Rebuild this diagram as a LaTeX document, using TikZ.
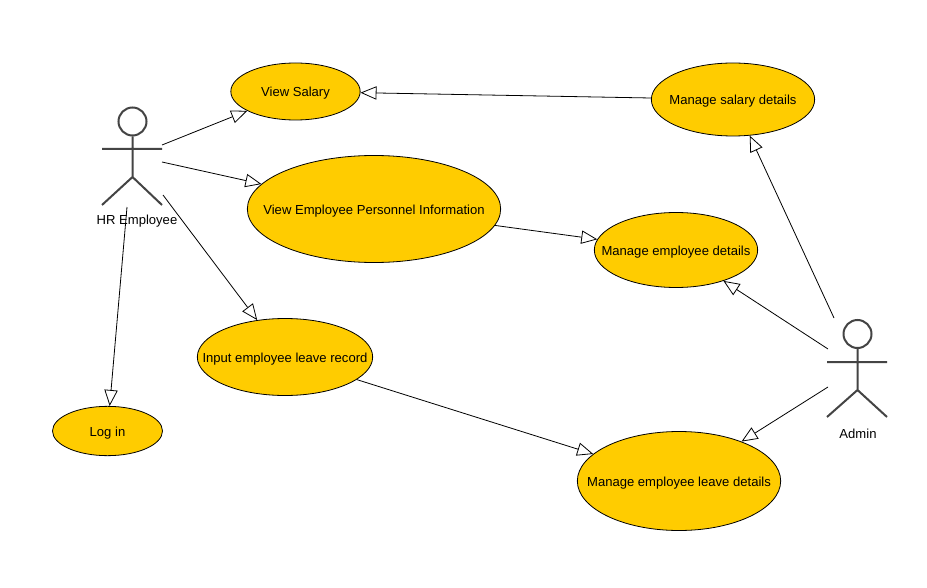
\documentclass[tikz,border=0pt]{standalone}
\usepackage{fontspec}
\setmainfont{Liberation Sans}
\usetikzlibrary{arrows.meta,shapes.geometric}
\definecolor{usecasefill}{HTML}{FFCC00}
\definecolor{actorline}{HTML}{444444}
\newcommand{\uctext}[1]{\smash{\raisebox{-3.9pt}{\makebox[0pt]{#1}}}}
\tikzset{
  usecase/.style={ellipse,draw=black,fill=usecasefill,line width=0.6pt,inner sep=0pt,font=\fontsize{9.8}{11}\selectfont},
  actorstroke/.style={draw=actorline,line width=1.5pt},
  actorname/.style={inner sep=0pt,font=\fontsize{9.8}{11}\selectfont},
  conn/.style={draw=black,line width=0.6pt,-{Triangle[open,length=12pt,width=10pt,fill=white]}}
}
\begin{document}
\begin{tikzpicture}[x=0.75pt,y=-0.75pt]
\useasboundingbox (0,0) rectangle (927,588);
\fill[white] (0,0) rectangle (927,588);
% use cases
\node[usecase,minimum width=97pt,minimum height=42.75pt] (salary) at (295.5,91.5) {\uctext{View Salary}};
\node[usecase,minimum width=122.5pt,minimum height=54.75pt] (msalary) at (733,99.5) {\uctext{Manage salary details}};
\node[usecase,minimum width=190pt,minimum height=80.25pt] (personnel) at (374,209) {\uctext{View Employee Personnel Information}};
\node[usecase,minimum width=122.5pt,minimum height=56.25pt] (mdetails) at (676,250) {\uctext{Manage employee details}};
\node[usecase,minimum width=131.5pt,minimum height=57.75pt] (input) at (285,357) {\uctext{Input employee leave record}};
\node[usecase,minimum width=82.5pt,minimum height=37pt] (login) at (107.5,431) {\uctext{Log in}};
\node[usecase,minimum width=152.5pt,minimum height=74.25pt] (mleave) at (679,481) {\uctext{Manage employee leave details}};
% HR actor
\node[circle,actorstroke,minimum size=21pt,inner sep=0pt] (hrhead) at (132.5,121.5) {};
\coordinate (hrhip) at (132.5,177);
\coordinate (hrarmL) at (102,149);
\coordinate (hrarmR) at (162,149);
\coordinate (hrfootL) at (102,205);
\coordinate (hrfootR) at (162,205);
\draw[actorstroke] (hrhead) -- (hrhip) (hrarmL) -- (hrarmR) (hrfootL) -- (hrhip) -- (hrfootR);
\node[actorname] (hrname) at (137,221) {HR Employee};
% Admin actor
\node[circle,actorstroke,minimum size=21pt,inner sep=0pt] (adhead) at (857.5,334) {};
\coordinate (adhip) at (857.5,390);
\coordinate (adarmL) at (827,362);
\coordinate (adarmR) at (887,362);
\coordinate (adfootL) at (827,417);
\coordinate (adfootR) at (887,417);
\draw[actorstroke] (adhead) -- (adhip) (adarmL) -- (adarmR) (adfootL) -- (adhip) -- (adfootR);
\node[actorname] (adname) at (858,434) {Admin};
% free ends
\coordinate (h1) at (162,145);
\coordinate (h2) at (162,162);
\coordinate (h3) at (163,195);
\coordinate (h4) at (127,207);
\coordinate (a1) at (834,318);
\coordinate (a2) at (828,349);
\coordinate (a3) at (828,387);
% connectors
\draw[conn] (h1) -- (salary);
\draw[conn] (h2) -- (personnel);
\draw[conn] (h3) -- (input);
\draw[conn] (h4) -- (login);
\draw[conn] (msalary) -- (salary);
\draw[conn] (personnel) -- (mdetails);
\draw[conn] (input) -- (mleave);
\draw[conn] (a1) -- (msalary);
\draw[conn] (a2) -- (mdetails);
\draw[conn] (a3) -- (mleave);
\end{tikzpicture}
\end{document}
